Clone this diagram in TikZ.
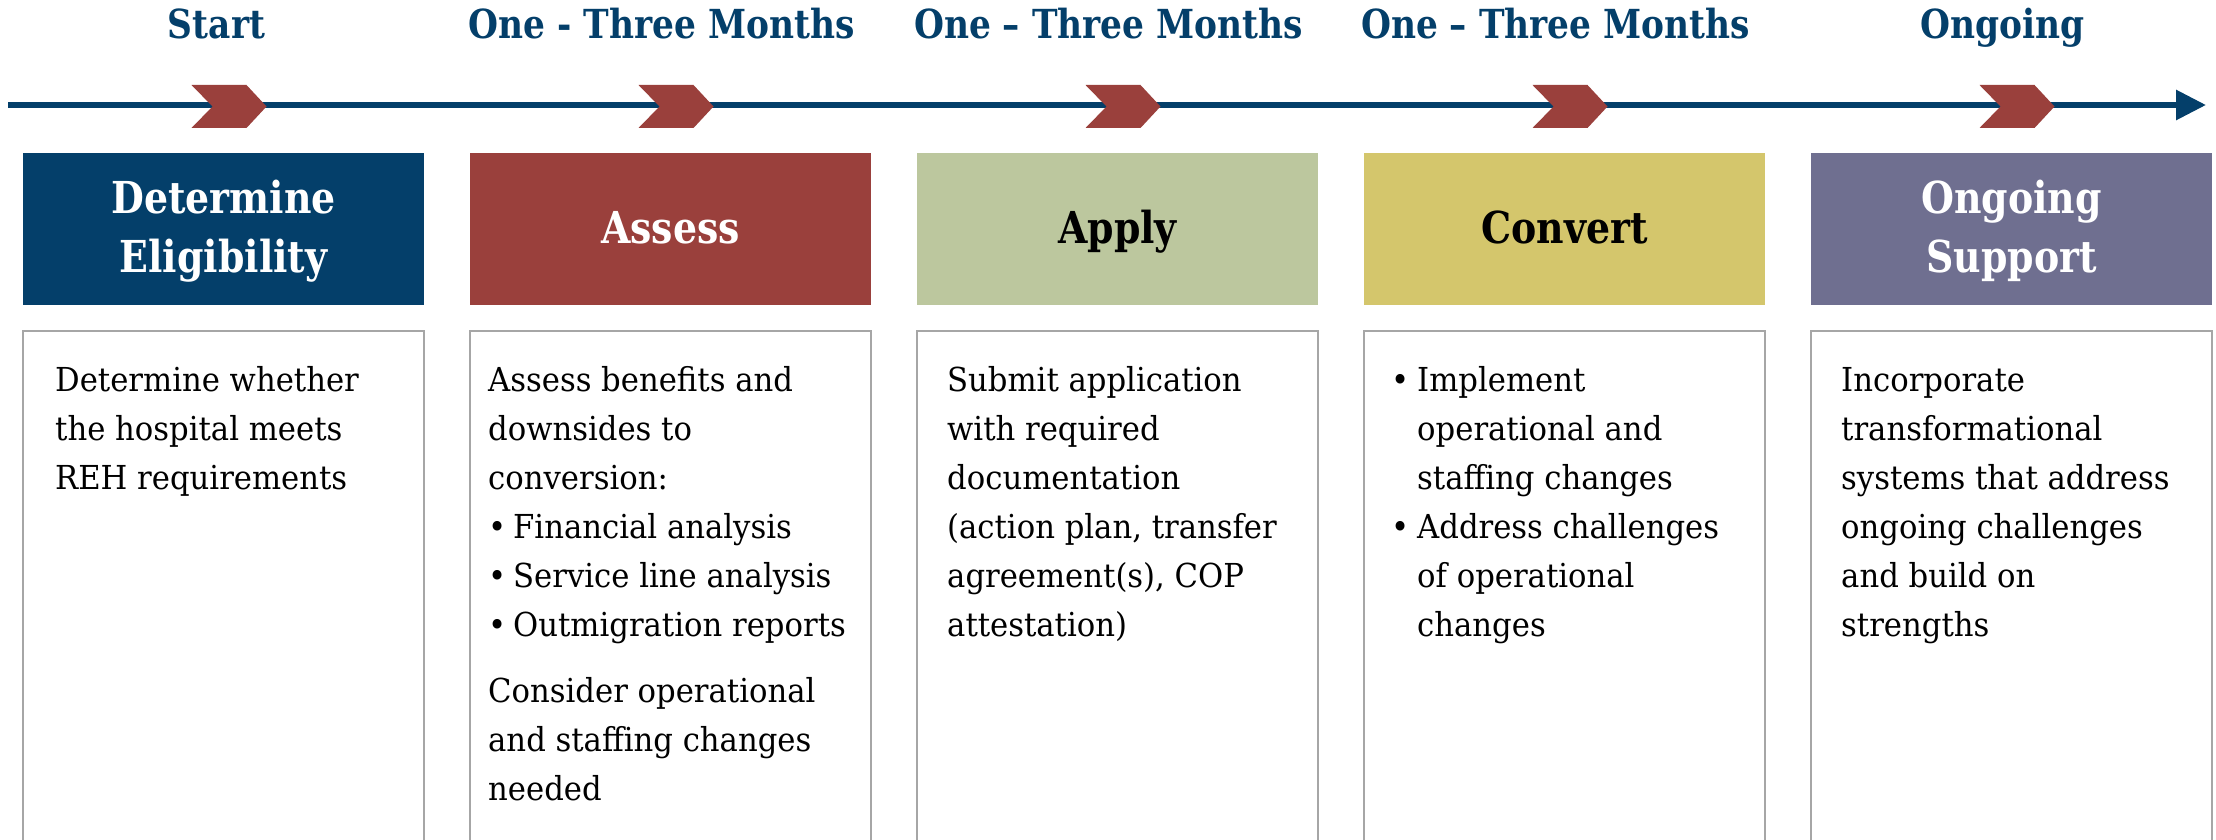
\documentclass[tikz,border=0pt]{standalone}
\usepackage{fontspec}
\setmainfont[FakeStretch=0.93]{DejaVu Serif}
\newfontfamily\hdfont[FakeStretch=0.86]{DejaVu Serif}
\usetikzlibrary{arrows.meta}
\definecolor{navy}{HTML}{043F6A}
\definecolor{brick}{HTML}{9A403C}
\definecolor{sage}{HTML}{BCC79E}
\definecolor{mustard}{HTML}{D4C66C}
\definecolor{slate}{HTML}{6F6F90}
\definecolor{framegray}{HTML}{A6A6A6}
\newcommand\cstack[1]{\vtop{\halign{\hfil##\hfil\cr#1\crcr}}}
\newcommand\lstack[1]{\vtop{\halign{##\hfil\cr#1\crcr}}}
\newcommand\bul[1]{\hbox to #1{\textbullet\hss}}
\tikzset{
 phase/.style={font=\hdfont\bfseries\fontsize{40}{48}\selectfont, text=navy, anchor=base, inner sep=0pt},
 hdbox/.style={inner sep=0pt, outer sep=0pt, minimum width=401pt, minimum height=152pt, anchor=north west},
 hdtext/.style={font=\hdfont\bfseries\fontsize{44}{59}\selectfont, anchor=base, inner sep=0pt},
 bodybox/.style={draw=framegray, line width=2.5pt},
 bodytext/.style={font=\fontsize{33}{49}\selectfont, anchor=base west, inner sep=0pt},
 chev/.style={fill=brick},
 timeline/.style={draw=navy, line width=6pt, -{Triangle[length=30pt,width=29pt]}}
}
\begin{document}
\begin{tikzpicture}[x=1pt,y=-1pt]
\fill[white] (0,0) rectangle (2216,840);
\useasboundingbox (0,0) rectangle (2216,840);

% phase labels
\node[phase] (p1) at (216.5,39) {Start};
\node[phase] (p2) at (661.5,39) {One - Three Months};
\node[phase] (p3) at (1108.5,39) {One – Three Months};
\node[phase] (p4) at (1555.5,39) {One – Three Months};
\node[phase] (p5) at (2002.5,39) {Ongoing};

% timeline
\coordinate (ts) at (8,105);
\coordinate (te) at (2206,105);
\draw[timeline] (ts) -- (te);
\foreach \c in {223.5,670.5,1117.5,1564.5,2011.5}{
  \fill[chev] ({\c-32},85) -- ++(55,0) -- ++(20,21.5) -- ++(-20,21.5) -- ++(-55,0) -- ++(21,-21.5) -- cycle;
}

% header boxes
\node[hdbox, fill=navy] (h1) at (23,153) {};
\node[hdbox, fill=brick] (h2) at (470,153) {};
\node[hdbox, fill=sage] (h3) at (917,153) {};
\node[hdbox, fill=mustard] (h4) at (1364,153) {};
\node[hdbox, fill=slate] (h5) at (1811,153) {};

\node[hdtext, text=white] (t1) at (223.5,213) {\cstack{Determine\cr Eligibility}};
\node[hdtext, text=white] (t2) at (670.5,243) {Assess};
\node[hdtext, text=black] (t3) at (1117.5,243) {Apply};
\node[hdtext, text=black] (t4) at (1564.5,243) {Convert};
\node[hdtext, text=white] (t5) at (2011.5,213) {\cstack{Ongoing\cr Support}};

% body boxes
\foreach \l in {23,470,917,1364,1811}{
  \draw[bodybox] (\l,850) -- (\l,331) -- ({\l+401},331) -- ({\l+401},850);
}

% body texts
\node[bodytext] (b1) at (55,391) {\lstack{Determine whether\cr the hospital meets\cr REH requirements}};
\node[bodytext] (b2) at (488,391) {\lstack{Assess benefits and\cr downsides to\cr conversion:\cr
 \bul{25pt}Financial analysis\cr
 \bul{25pt}Service line analysis\cr
 \bul{25pt}Outmigration reports\cr
 \noalign{\vskip17pt}
 Consider operational\cr and staffing changes\cr needed}};
\node[bodytext] (b3) at (947,391) {\lstack{Submit application\cr with required\cr documentation\cr (action plan, transfer\cr agreement(s), COP\cr attestation)}};
\node[bodytext] (b4) at (1391,391) {\lstack{\bul{26pt}Implement\cr
 \hskip26pt operational and\cr
 \hskip26pt staffing changes\cr
 \bul{26pt}Address challenges\cr
 \hskip26pt of operational\cr
 \hskip26pt changes}};
\node[bodytext] (b5) at (1841,391) {\lstack{Incorporate\cr transformational\cr systems that address\cr ongoing challenges\cr and build on\cr strengths}};
\end{tikzpicture}
\end{document}
